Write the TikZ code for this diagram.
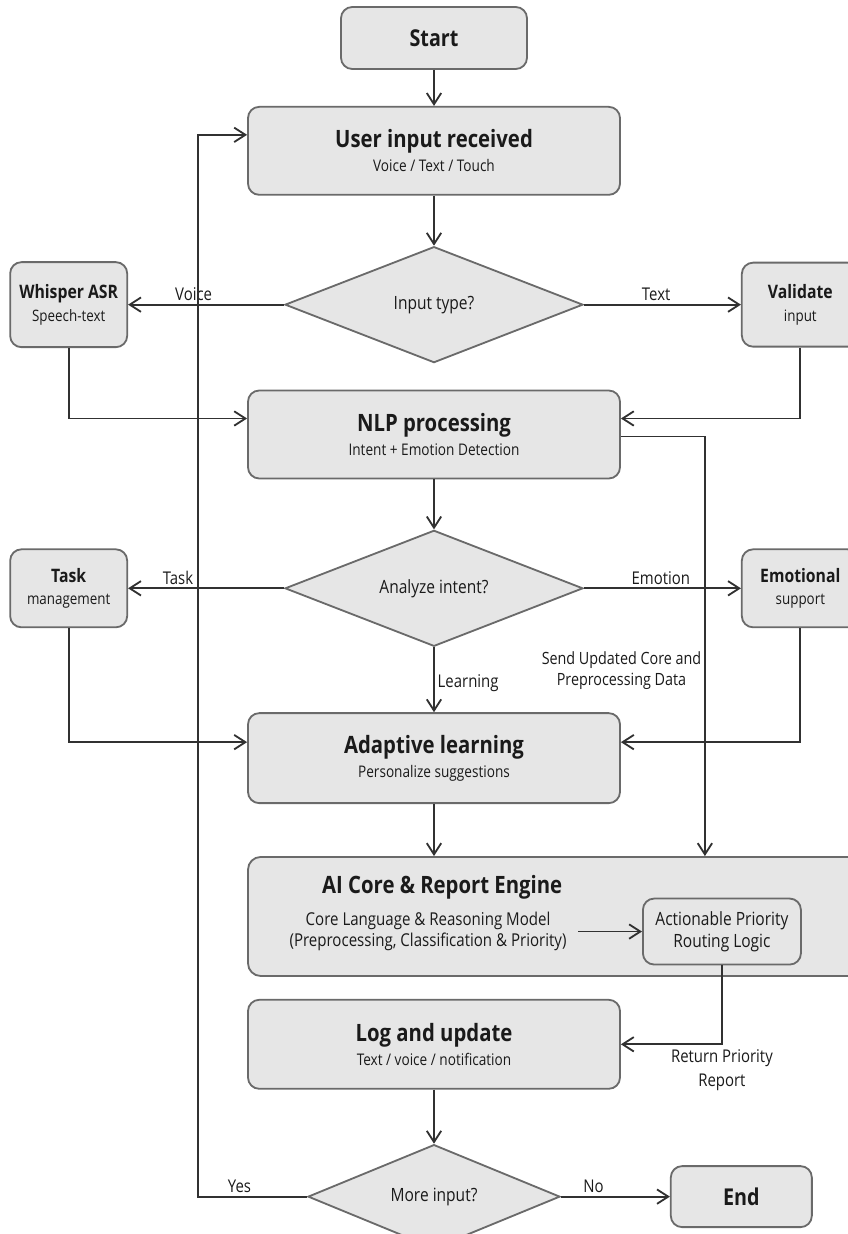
\documentclass[tikz,border=0pt]{standalone}
\usepackage{fontspec}
\setmainfont{Open Sans}[FakeStretch=0.85]
\usepackage{tikz}
\usetikzlibrary{arrows.meta,calc,positioning,shapes.geometric}
\definecolor{boxfill}{HTML}{E6E6E6}
\definecolor{boxdraw}{HTML}{6A6A6A}
\definecolor{ink}{HTML}{1A1A1A}
\tikzset{
  block/.style     = {draw=boxdraw, line width=1.3pt, rounded corners=8pt, fill=boxfill, align=center, text=ink, inner sep=2pt, font=\fontsize{11.4}{14}\selectfont},
  bigblock/.style  = {block, minimum width=9.3cm, minimum height=2.2cm},
  sideblock/.style = {block, font=\fontsize{11.2}{14}\selectfont, minimum width=2.925cm},
  termblock/.style = {block, font=\bfseries\fontsize{16.5}{19}\selectfont},
  decision/.style  = {diamond, draw=boxdraw, line width=1.3pt, fill=boxfill, aspect=2.57, inner sep=0pt, minimum width=7.45cm, minimum height=2.9cm, text=ink, font=\fontsize{13}{16}\selectfont},
  line/.style      = {->, line width=1.3pt, draw=ink!90, >={Straight Barb[length=2.8mm, width=3.6mm]}},
  lbl/.style       = {font=\fontsize{12.5}{15}\selectfont, text=ink, inner sep=2pt},
}
\newcommand{\ttl}[1]{{\bfseries\fontsize{17}{20}\selectfont #1}}
\newcommand{\stl}[1]{{\bfseries\fontsize{13.2}{16}\selectfont #1}}

\begin{document}
\begin{tikzpicture}[node distance=1.25cm and 3.9cm]
    \useasboundingbox (0,0) rectangle (21.2,-30.85);

    % Main column
    \node[termblock, minimum width=4.65cm, minimum height=1.55cm] (start) at (10.85,-0.95) {Start};
    \node[bigblock, below=0.9cm of start] (userin) {\ttl{User input received}\\[3pt] Voice / Text / Touch};
    \node[decision, below=1.25cm of userin] (intype) {Input type?};
    \node[bigblock, below=0.65cm of intype] (nlp) {\ttl{NLP processing}\\[3pt] Intent + Emotion Detection};
    \node[decision, below=1.25cm of nlp] (analyze) {Analyze intent?};
    \node[bigblock, minimum height=2.25cm, below=1.625cm of analyze] (adapt) {\ttl{Adaptive learning}\\[3pt] Personalize suggestions};

    % Input branches
    \node[sideblock, minimum height=2.125cm, left=3.9cm of intype] (whisper) {\stl{Whisper ASR}\\[2pt] Speech-text};
    \node[sideblock, minimum height=2.1cm, right=3.925cm of intype] (validate) {\stl{Validate}\\[2pt] input};

    % Intent branches
    \node[sideblock, minimum height=1.95cm, left=3.9cm of analyze] (task) {\stl{Task}\\[2pt] management};
    \node[sideblock, minimum height=1.95cm, right=3.925cm of analyze] (emo) {\stl{Emotional}\\[2pt] support};

    % AI core container
    \node[block, rounded corners=9pt, minimum width=15.4cm, minimum height=2.975cm, below=1.3cm of adapt.south west, anchor=north west] (aicore) {};
    \node[anchor=north west, inner sep=2pt, text=ink, font=\bfseries\fontsize{17}{20}\selectfont, below right=0.4cm and 1.8cm of aicore.north west] (coretitle) {AI Core \& Report Engine};
    \node[align=center, inner xsep=8pt, inner ysep=2pt, text=ink, font=\fontsize{12.6}{15}\selectfont, below right=1.325cm and 0.775cm of aicore.north west] (coretxt) {Core Language \& Reasoning Model\\(Preprocessing, Classification \& Priority)};
    \node[block, font=\fontsize{13}{15.5}\selectfont, minimum width=3.95cm, minimum height=1.65cm, right=1.6cm of coretxt] (action) {Actionable Priority\\Routing Logic};

    % Output
    \node[bigblock, minimum height=2.225cm, below=0.55cm of aicore.south west, anchor=north west] (log) {\ttl{Log and update}\\[3pt] Text / voice / notification};
    \node[decision, minimum width=6.3cm, minimum height=2.6cm, below=1.35cm of log] (more) {More input?};
    \node[termblock, minimum width=3.525cm, minimum height=1.525cm, right=2.725cm of more] (finish) {End};

    % Edges: main flow
    \draw[line] (start) -- (userin);
    \draw[line] (userin) -- (intype);
    \draw[line] (nlp) -- (analyze);
    \draw[line] (analyze) -- node[lbl, right, pos=0.55] {Learning} (adapt);
    \draw[line] (adapt) -- (adapt |- aicore.north);
    \draw[line] (coretxt) -- (action);
    \draw[line] (log) -- (more);

    % Edges: input type
    \draw[line] (intype) -- node[lbl, above, pos=0.58] {Voice} (whisper);
    \draw[line] (intype) -- node[lbl, above, pos=0.46] {Text} (validate);
    \draw[line] (whisper) |- ([yshift=4mm]nlp.west);
    \draw[line] (validate) |- ([yshift=4mm]nlp.east);

    % Edges: intent
    \draw[line] (analyze) -- node[lbl, above, pos=0.68] {Task} (task);
    \draw[line] (analyze) -- node[lbl, above, pos=0.49] {Emotion} (emo);
    \draw[line] (task) |- ([yshift=4mm]adapt.west);
    \draw[line] (emo) |- ([yshift=4mm]adapt.east);

    % Side channel to the core
    \coordinate (tap) at ([xshift=2.1cm, yshift=-0.05cm]nlp.east);
    \draw[line] ([yshift=-0.05cm]nlp.east) -- (tap) -- node[lbl, left, align=center, pos=0.557, font=\fontsize{12}{15}\selectfont] {Send Updated Core and\\Preprocessing Data} (tap |- aicore.north);

    % Report back
    \draw[line] (action) |- node[lbl, below, align=center, pos=0.5, yshift=-1pt] {Return Priority\\[2pt]Report} (log);

    % Loop or finish
    \coordinate (back) at ([xshift=-1.225cm, yshift=4mm]userin.west);
    \draw[line] (more) -- node[lbl, above, pos=0.3] {No} (finish);
    \draw[line] (more.west) -- node[lbl, above, pos=0.62] {Yes} (more.west -| back) -- (back) -- ([yshift=4mm]userin.west);
  \end{tikzpicture}
\end{document}
